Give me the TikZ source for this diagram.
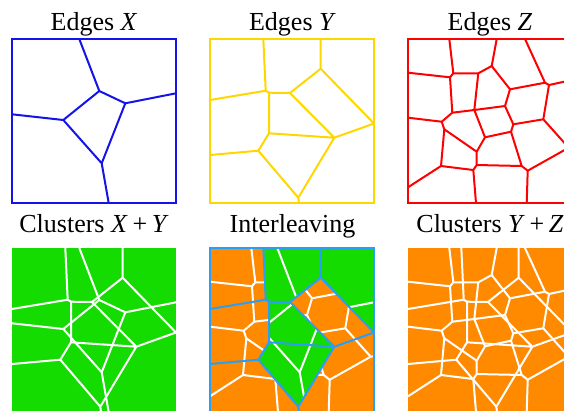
\documentclass[tikz,border=0pt]{standalone}
\usepackage{fontspec}
\setmainfont{Liberation Serif}
\usepackage{tikz}
\definecolor{xblue}{HTML}{1414E6}
\definecolor{ygold}{HTML}{FFD700}
\definecolor{zred}{HTML}{FF0000}
\definecolor{clgreen}{HTML}{14DC00}
\definecolor{clorange}{HTML}{FF8A00}
\definecolor{ilblue}{HTML}{2A9DF4}

\newcommand{\edgesX}{(67.3,0) -- (87.3,52) -- (113.3,64.3) -- (164,54.3)
  (87.3,52) -- (51.3,81) -- (0,75.3)
  (51.3,81) -- (89.7,124.3) -- (113.3,64.3)
  (89.7,124.3) -- (96.7,164)}
\newcommand{\edgesY}{(53.3,0) -- (55.7,51.7) -- (0,61)
  (55.7,51.7) -- (59,53.7) -- (80,54) -- (110.7,29.7) -- (110.7,0)
  (110.7,29.7) -- (164,84.5)
  (80,54) -- (124.3,98.7) -- (164,84.5)
  (59,53.7) -- (59,94.3) -- (124.3,98.7)
  (59,94.3) -- (48.3,111.7) -- (0,116)
  (48.3,111.7) -- (88.3,158.7) -- (124.3,98.7)
  (88.3,158.7) -- (89,164)}
\newcommand{\edgesZ}{(41.3,0) -- (45.3,34.3) -- (70.3,34.3) -- (83.7,27) -- (88.7,0)
  (0,33.7) -- (42,38.3) -- (45.3,34.3)
  (42,38.3) -- (44.3,73.7) -- (66.3,71) -- (70.3,34.3)
  (83.7,27) -- (102,50.3) -- (137,43.7) -- (117,0)
  (137,43.7) -- (141,46) -- (164,41)
  (102,50.3) -- (97,67) -- (66.3,71)
  (44.3,73.7) -- (33.7,82.7) -- (0,78.7)
  (33.7,82.7) -- (36.3,90.3) -- (68.7,112.7) -- (77,98.3) -- (66.3,71)
  (36.3,90.3) -- (33,127) -- (0,148.3)
  (97,67) -- (105.3,85.3) -- (135.3,80.3) -- (141,46)
  (105.3,85.3) -- (103,92.7) -- (77,98.3)
  (68.7,112.7) -- (68.7,126) -- (65.3,131) -- (33,127)
  (65.3,131) -- (68,164)
  (68.7,126) -- (113.7,127) -- (103,92.7)
  (113.7,127) -- (119.7,131.7) -- (118.7,164)
  (135.3,80.3) -- (160.7,108.7) -- (119.7,131.7)
  (160.7,108.7) -- (164,108)}
\newcommand{\greenY}{(53.3,0) -- (55.7,51.7) -- (59,53.7) -- (59,94.3) -- (48.3,111.7)
  -- (88.3,158.7) -- (124.3,98.7) -- (80,54) -- (110.7,29.7) -- (164,84.5) -- (164,0) -- cycle}

\begin{document}
\begin{tikzpicture}[x=1pt,y=-1pt,
  ttl/.style={font=\fontsize{26}{30}\selectfont,anchor=base,inner sep=0pt},
  vor/.style={line width=2pt,line join=round},
  frame/.style={line width=2pt}]
  \useasboundingbox (0,0) rectangle (564,410);
  \node[ttl] (tx) at (94,30) {Edges \textit{X}};
  \node[ttl] (ty) at (292.5,30) {Edges \textit{Y}};
  \node[ttl] (tz) at (490,30) {Edges \textit{Z}};
  \node[ttl] (txy) at (94,232) {Clusters \textit{X}\hspace{0.18em}+\hspace{0.18em}\textit{Y}};
  \node[ttl] (til) at (292.5,232) {Interleaving};
  \node[ttl] (tyz) at (490,232) {Clusters \textit{Y}\hspace{0.18em}+\hspace{0.18em}\textit{Z}};

  \begin{scope}[shift={(12,39)}]
    \begin{scope}
      \clip (0,0) rectangle (164,164);
      \draw[vor,xblue] \edgesX;
    \end{scope}
    \draw[frame,xblue] (0,0) rectangle (164,164);
  \end{scope}

  \begin{scope}[shift={(210,39)}]
    \begin{scope}
      \clip (0,0) rectangle (164,164);
      \draw[vor,ygold] \edgesY;
    \end{scope}
    \draw[frame,ygold] (0,0) rectangle (164,164);
  \end{scope}

  \begin{scope}[shift={(408,39)}]
    \begin{scope}
      \clip (0,0) rectangle (164,164);
      \draw[vor,zred] \edgesZ;
    \end{scope}
    \draw[frame,zred] (0,0) rectangle (164,164);
  \end{scope}

  \begin{scope}[shift={(12,248)}]
    \fill[clgreen] (0,0) rectangle (164,164);
    \begin{scope}
      \clip (0,0) rectangle (164,164);
      \draw[vor,white] \edgesX;
      \draw[vor,white] \edgesY;
    \end{scope}
  \end{scope}

  \begin{scope}[shift={(210,248)}]
    \fill[clorange] (0,0) rectangle (164,164);
    \begin{scope}
      \clip (0,0) rectangle (164,164);
      \draw[vor,white] \edgesZ;
    \end{scope}
    \fill[clgreen] \greenY;
    \begin{scope}
      \clip \greenY;
      \draw[vor,white] \edgesX;
    \end{scope}
    \begin{scope}
      \clip (0,0) rectangle (164,164);
      \draw[vor,ilblue] \edgesY;
    \end{scope}
    \draw[frame,ilblue] (0,0) rectangle (164,164);
  \end{scope}

  \begin{scope}[shift={(408,248)}]
    \fill[clorange] (0,0) rectangle (164,164);
    \begin{scope}
      \clip (0,0) rectangle (164,164);
      \draw[vor,white] \edgesY;
      \draw[vor,white] \edgesZ;
    \end{scope}
  \end{scope}
\end{tikzpicture}
\end{document}
